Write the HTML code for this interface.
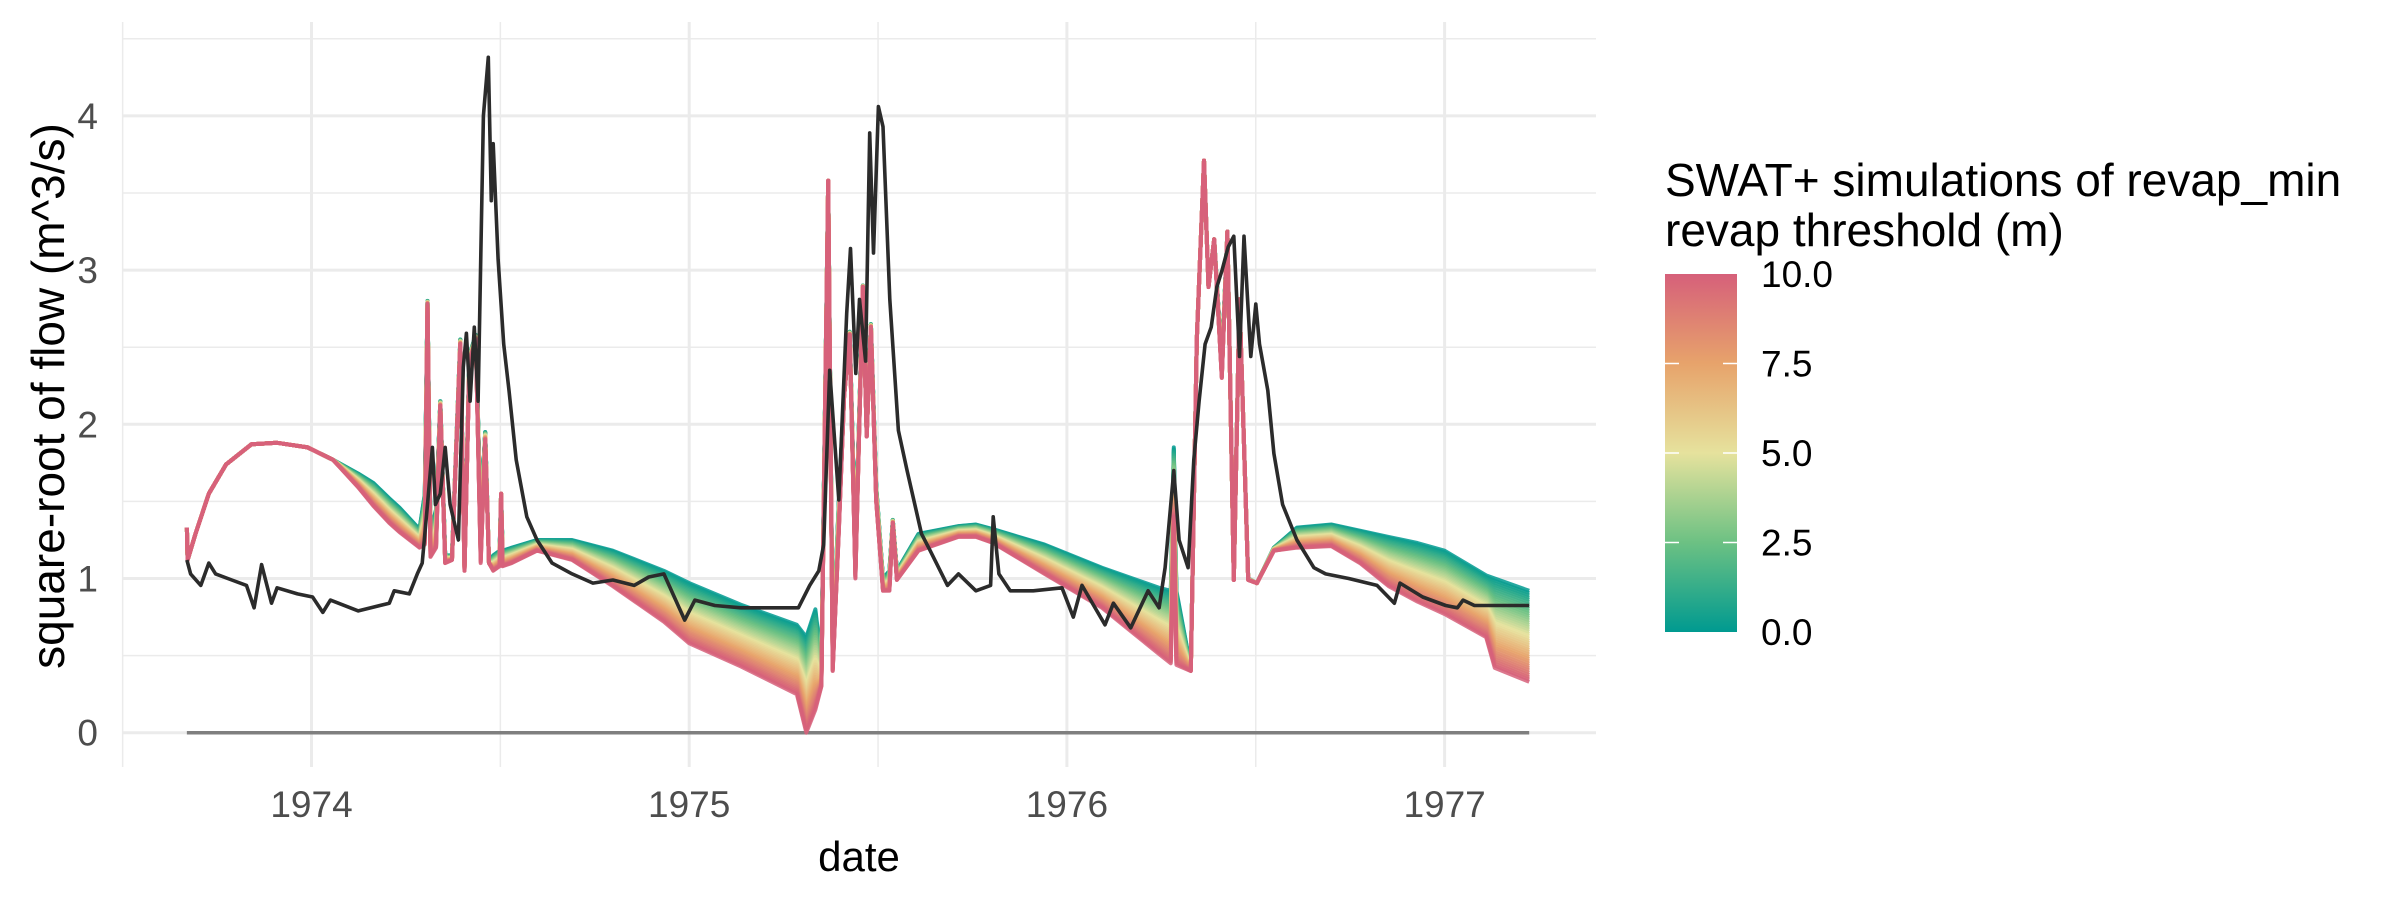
<!DOCTYPE html>
<html><head><meta charset="utf-8">
<style>
html,body{margin:0;padding:0;background:#fff;}
svg{display:block;font-family:"Liberation Sans",Arial,sans-serif;}
</style></head>
<body>
<svg id="chart" width="2400" height="900" viewBox="0 0 2400 900" xmlns="http://www.w3.org/2000/svg">
  <g id="grid"></g>
  <g id="sims"></g>
  <g id="obs"></g>
  <g id="axes"></g>
  <text x="859" y="871" font-size="42" text-anchor="middle" fill="#000">date</text>
  <text transform="translate(64,396) rotate(-90)" font-size="46" text-anchor="middle" fill="#000">square-root of flow (m^3/s)</text>
  <g>
    <text x="1665" y="196" font-size="46" fill="#000">SWAT+ simulations of revap_min</text>
    <text x="1665" y="246" font-size="46" fill="#000">revap threshold (m)</text>
    <defs>
      <linearGradient id="cbar" x1="0" y1="1" x2="0" y2="0">
        <stop offset="0" stop-color="#009A90"/>
        <stop offset="0.25" stop-color="#6CC183"/>
        <stop offset="0.5" stop-color="#E6E29D"/>
        <stop offset="0.75" stop-color="#E7A36B"/>
        <stop offset="1" stop-color="#D6607A"/>
      </linearGradient>
    </defs>
    <rect x="1665" y="274" width="72" height="358" fill="url(#cbar)"/>
    <g id="cbticks"></g>
  </g>
</svg>
<script>
// ---- data ----
const obsT = [1973.67,1973.68,1973.707,1973.728,1973.746,1973.789,1973.828,1973.848,1973.868,1973.894,1973.909,1973.963,1974.003,1974.030,1974.050,1974.124,1974.206,1974.219,1974.259,1974.280,1974.293,1974.307,1974.320,1974.328,1974.341,1974.354,1974.367,1974.389,1974.402,1974.410,1974.420,1974.431,1974.441,1974.455,1974.468,1974.476,1974.481,1974.494,1974.509,1974.523,1974.542,1974.570,1974.597,1974.637,1974.690,1974.745,1974.798,1974.854,1974.893,1974.933,1974.988,1975.015,1975.068,1975.137,1975.203,1975.289,1975.319,1975.343,1975.356,1975.372,1975.396,1975.417,1975.427,1975.441,1975.451,1975.467,1975.478,1975.488,1975.501,1975.513,1975.531,1975.554,1975.577,1975.615,1975.638,1975.684,1975.713,1975.759,1975.798,1975.805,1975.820,1975.850,1975.911,1975.987,1976.017,1976.040,1976.101,1976.123,1976.169,1976.215,1976.244,1976.260,1976.283,1976.297,1976.321,1976.336,1976.350,1976.366,1976.382,1976.397,1976.411,1976.427,1976.442,1976.457,1976.469,1976.487,1976.500,1976.510,1976.532,1976.548,1976.571,1976.609,1976.654,1976.685,1976.746,1976.821,1976.867,1976.882,1976.942,1977.003,1977.034,1977.049,1977.079,1977.224];
const obsV = [1.12,1.03,0.955,1.10,1.03,0.99,0.955,0.81,1.09,0.84,0.94,0.90,0.88,0.78,0.86,0.79,0.84,0.92,0.90,1.03,1.10,1.48,1.85,1.48,1.55,1.85,1.48,1.25,2.37,2.59,2.15,2.63,2.15,4.0,4.38,3.45,3.82,3.07,2.52,2.22,1.77,1.40,1.25,1.10,1.03,0.97,0.99,0.955,1.01,1.03,0.73,0.86,0.825,0.81,0.81,0.81,0.955,1.05,1.22,2.35,1.51,2.72,3.14,2.33,2.81,2.41,3.89,3.11,4.06,3.93,2.81,1.96,1.70,1.29,1.18,0.955,1.03,0.92,0.955,1.40,1.03,0.92,0.92,0.94,0.75,0.955,0.70,0.84,0.68,0.92,0.81,1.07,1.70,1.25,1.07,1.77,2.15,2.52,2.63,2.89,3.0,3.15,3.22,2.44,3.22,2.44,2.78,2.52,2.22,1.81,1.48,1.25,1.07,1.03,1.0,0.955,0.84,0.97,0.88,0.825,0.81,0.86,0.825,0.825];
const simT = [1973.67,1973.672,1973.693,1973.728,1973.774,1973.841,1973.909,1973.99,1974.057,1974.124,1974.164,1974.206,1974.233,1974.286,1974.300,1974.307,1974.315,1974.330,1974.341,1974.354,1974.372,1974.394,1974.405,1974.418,1974.435,1974.448,1974.460,1974.470,1974.481,1974.498,1974.502,1974.506,1974.530,1974.597,1974.69,1974.798,1974.933,1975.00,1975.137,1975.285,1975.31,1975.334,1975.350,1975.368,1975.380,1975.396,1975.410,1975.425,1975.44,1975.460,1975.470,1975.481,1975.495,1975.513,1975.53,1975.539,1975.55,1975.607,1975.713,1975.759,1975.805,1975.941,1976.093,1976.244,1976.275,1976.283,1976.29,1976.328,1976.344,1976.363,1976.375,1976.39,1976.41,1976.425,1976.442,1976.457,1976.48,1976.503,1976.548,1976.609,1976.70,1976.776,1976.852,1976.928,1977.0,1977.11,1977.133,1977.224];
const simUpper = [1.33,1.12,1.29,1.55,1.74,1.87,1.88,1.85,1.77,1.68,1.62,1.52,1.46,1.32,1.55,2.80,1.30,1.45,2.15,1.15,1.15,2.55,1.10,2.45,2.58,1.40,1.95,1.10,1.15,1.18,1.55,1.18,1.20,1.25,1.25,1.18,1.05,0.97,0.83,0.70,0.62,0.80,0.45,3.58,0.55,1.5,2.2,2.6,1.2,2.9,1.95,2.65,1.6,1.0,1.05,1.38,1.05,1.29,1.34,1.35,1.32,1.22,1.07,0.94,0.92,1.85,0.92,0.42,2.55,3.71,2.9,3.2,2.4,3.25,1.0,2.81,1.0,0.97,1.2,1.33,1.35,1.31,1.27,1.23,1.18,1.02,1.0,0.92];
const simLower = [1.33,1.12,1.29,1.55,1.74,1.87,1.88,1.85,1.77,1.59,1.47,1.36,1.30,1.20,1.22,2.78,1.14,1.20,2.12,1.10,1.12,2.52,1.05,2.40,2.55,1.10,1.90,1.10,1.05,1.08,1.55,1.08,1.10,1.18,1.12,0.95,0.72,0.58,0.43,0.25,0.0,0.15,0.30,3.58,0.40,1.3,2.18,2.58,1.0,2.89,1.92,2.63,1.5,0.92,0.92,1.36,0.99,1.18,1.27,1.27,1.23,1.03,0.81,0.51,0.45,1.4,0.44,0.40,2.55,3.71,2.89,3.2,2.3,3.25,0.99,2.81,0.99,0.97,1.18,1.20,1.21,1.10,0.95,0.85,0.77,0.62,0.42,0.33];
const thresholds = [0,0.25,0.5,0.75,1,1.25,1.5,1.75,2,2.25,2.5,2.75,3,3.25,3.5,3.75,4,4.25,4.5,4.75,5,5.25,5.5,5.75,6,6.25,6.5,6.75,7,7.25,7.5,7.75,8,8.25,8.5,8.75,9,9.25,9.5,9.75,10];
const yTicks = [0,1,2,3,4];
const yTickLabels = ["0","1","2","3","4"];
const xTicks = [1974,1975,1976,1977];
const xTickLabels = ["1974","1975","1976","1977"];
const cbTicks = [0,2.5,5,7.5,10];
const cbTickLabels = ["0.0","2.5","5.0","7.5","10.0"];

// ---- scales ----
const X0 = 1974, PX0 = 311.5, PXY = 377.7;
const PY0 = 732.7, PYU = 154.2;
function sx(t){ return PX0 + (t - X0) * PXY; }
function sy(v){ return PY0 - v * PYU; }
const panel = {l:122, r:1596, t:22, b:767};
const NS = "http://www.w3.org/2000/svg";
function mk(tag, attrs, parent){ const e=document.createElementNS(NS,tag); for(const k in attrs) e.setAttribute(k,attrs[k]); parent.appendChild(e); return e; }

// grid
const grid = document.getElementById('grid');
for (let v=0.5; v<4.6; v+=1){
  const l = mk('line',{x1:panel.l,x2:panel.r,y1:sy(v),y2:sy(v),stroke:'#ebebeb','stroke-width':1.5},grid);
  
  
}
for (const t of [1973.5,1974.5,1975.5,1976.5]){
  const l = mk('line',{x1:sx(t),x2:sx(t),y1:panel.t,y2:panel.b,stroke:'#ebebeb','stroke-width':1.5},grid);
  
  
}
const axes = document.getElementById('axes');
yTicks.forEach((v,i)=>{
  const l = mk('line',{x1:panel.l,x2:panel.r,y1:sy(v),y2:sy(v),stroke:'#ebebeb','stroke-width':3},grid);
  
  
  const tx = mk('text',{x:98,y:sy(v)+13,'font-size':37,'text-anchor':'end',fill:'#4d4d4d'},axes);
  tx.textContent = yTickLabels[i];
  
  
});
xTicks.forEach((t,i)=>{
  const l = mk('line',{x1:sx(t),x2:sx(t),y1:panel.t,y2:panel.b,stroke:'#ebebeb','stroke-width':3},grid);
  
  
  const tx = mk('text',{x:sx(t),y:817,'font-size':37,'text-anchor':'middle',fill:'#4d4d4d'},axes);
  tx.textContent = xTickLabels[i];
  
  
});

// colour scale
const stops = [[0,[0,154,144]],[2.5,[108,193,131]],[5,[230,226,157]],[7.5,[231,163,107]],[10,[214,96,122]]];
function col(v){
  for(let i=0;i<stops.length-1;i++){
    const a=stops[i], b=stops[i+1];
    if(v<=b[0]){ const f=(v-a[0])/(b[0]-a[0]); const c=a[1].map((x,j)=>Math.round(x+(b[1][j]-x)*f)); return `rgb(${c[0]},${c[1]},${c[2]})`; }
  }
  return 'rgb(214,96,122)';
}

// zero line
const zl = mk('line',{x1:sx(simT[0]),x2:sx(simT[simT.length-1]),y1:sy(0),y2:sy(0),stroke:'#7f7f7f','stroke-width':3.5},document.getElementById('sims'));



// simulation lines
const sims = document.getElementById('sims');
thresholds.forEach(th=>{
  const f = th/10;
  let d='';
  simT.forEach((t,i)=>{
    const v = simUpper[i] + (simLower[i]-simUpper[i])*f;
    d += (i?'L':'M') + sx(t).toFixed(1) + ',' + sy(v).toFixed(1);
  });
  const p = mk('path',{d:d,fill:'none',stroke:col(th),'stroke-width':4,'stroke-linejoin':'round','stroke-opacity':0.85},sims);
  
  
});

// observed
let od='';
obsT.forEach((t,i)=>{ od += (i?'L':'M') + sx(t).toFixed(1) + ',' + sy(obsV[i]).toFixed(1); });
const op = mk('path',{d:od,fill:'none',stroke:'#2b2b2b','stroke-width':3.6,'stroke-linejoin':'round'},document.getElementById('obs'));



// colorbar ticks
const cbg = document.getElementById('cbticks');
cbTicks.forEach((v,i)=>{
  const y = 632 - v/10*358;
  if (v>0 && v<10){
    const a = mk('line',{x1:1665,x2:1679,y1:y,y2:y,stroke:'#fff','stroke-width':1.5},cbg);
    
    
    const b = mk('line',{x1:1723,x2:1737,y1:y,y2:y,stroke:'#fff','stroke-width':1.5},cbg);
    
    
  }
  const tx = mk('text',{x:1761,y:y+13,'font-size':37,fill:'#000'},cbg);
  tx.textContent = cbTickLabels[i];
  
  
});
</script>
</body></html>
